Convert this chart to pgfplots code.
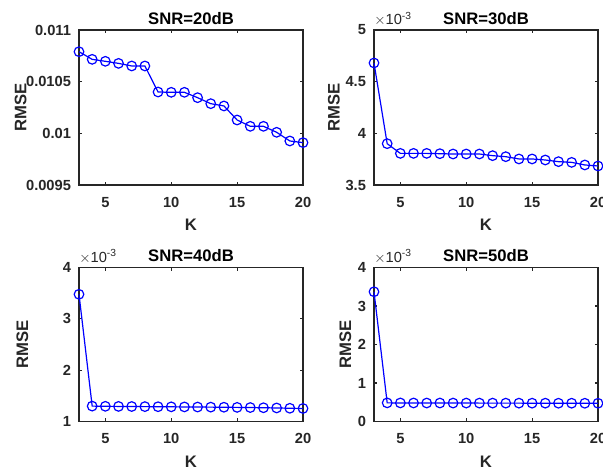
\documentclass[border=0pt]{standalone}
\usepackage{fontspec}
\setmainfont{Liberation Sans}
\usepackage{pgfplots}
\pgfplotsset{compat=1.18}
\definecolor{axgray}{rgb}{0.15,0.15,0.15}
\pgfplotsset{
  every axis title shift=0pt,
  mstyle/.style={
    scale only axis,
    width=168pt, height=116.25pt,
    xmin=3, xmax=20,
    xtick={5,10,15,20},
    tick align=inside,
    major tick length=2.5pt,
    axis line style={axgray, line width=0.8pt},
    every tick/.style={axgray, line width=0.8pt},
    tick label style={font=\fontsize{11}{13}\selectfont\bfseries, text=axgray},
    /pgf/number format/assume math mode=true,
    xticklabel style={yshift=-5.5pt},
    yticklabel style={xshift=-2.5pt},
    title style={font=\fontsize{12.5}{14}\selectfont\bfseries, text=black,
      at={(axis description cs:0.5,1)}, anchor=south, inner sep=0pt, yshift=4pt},
    label style={font=\fontsize{12.5}{15}\selectfont\bfseries, text=axgray},
    xlabel={K},
    ylabel={RMSE},
    xlabel style={at={(axis description cs:0.5,0)}, anchor=north, inner sep=0pt, yshift=-25.5pt},
    clip=false,
  },
  pstyle/.style={blue, line width=0.9pt, mark=o, mark size=3.6pt, mark options={line width=0.9pt}},
}
\newcommand{\expnode}{\node[anchor=south west, inner sep=0pt, yshift=3pt, font=\fontsize{11}{13}\selectfont, text=axgray] at (rel axis cs:0,1) {$\times$10\textsuperscript{-3}};}
\begin{document}
\begin{tikzpicture}
% SNR=20dB
\begin{axis}[mstyle, at={(79*0.75pt,284*0.75pt)}, anchor=south west,
  title={SNR=20dB},
  ymin=0.0095, ymax=0.011,
  ytick={0.0095,0.01,0.0105,0.011},
  yticklabels={0.0095,0.01,0.0105,0.011},
  scaled y ticks=false,
  ylabel style={at={(axis description cs:-0.26,0.5)}, anchor=center}]
\addplot[pstyle] coordinates {
(3,0.01079) (4,0.010716) (5,0.010697) (6,0.010677) (7,0.010652) (8,0.010652)
(9,0.010400) (10,0.010397) (11,0.010397) (12,0.010345) (13,0.010287) (14,0.010265)
(15,0.010129) (16,0.010068) (17,0.010068) (18,0.010010) (19,0.009926) (20,0.009910)};
\end{axis}
% SNR=30dB
\begin{axis}[mstyle, at={(374*0.75pt,284*0.75pt)}, anchor=south west,
  title={SNR=30dB},
  ymin=3.5, ymax=5,
  ytick={3.5,4,4.5,5},
  ylabel style={at={(axis description cs:-0.179,0.5)}, anchor=center}]
\addplot[pstyle] coordinates {
(3,4.681) (4,3.900) (5,3.806) (6,3.806) (7,3.806) (8,3.803) (9,3.800) (10,3.800)
(11,3.800) (12,3.784) (13,3.774) (14,3.752) (15,3.752) (16,3.742) (17,3.726)
(18,3.719) (19,3.694) (20,3.684)};
\expnode
\end{axis}
% SNR=40dB
\begin{axis}[mstyle, at={(79*0.75pt,47.5*0.75pt)}, anchor=south west,
  height=115.5pt,
  title={SNR=40dB},
  ymin=1, ymax=4,
  ytick={1,2,3,4},
  ylabel style={at={(axis description cs:-0.253,0.5)}, anchor=center}]
\addplot[pstyle] coordinates {
(3,3.478) (4,1.300) (5,1.296) (6,1.294) (7,1.292) (8,1.290) (9,1.288) (10,1.286)
(11,1.284) (12,1.282) (13,1.280) (14,1.278) (15,1.275) (16,1.272) (17,1.268)
(18,1.264) (19,1.258) (20,1.254)};
\expnode
\end{axis}
% SNR=50dB
\begin{axis}[mstyle, at={(374*0.75pt,47.5*0.75pt)}, anchor=south west,
  height=115.5pt,
  title={SNR=50dB},
  ymin=0, ymax=4,
  ytick={0,1,2,3,4},
  ylabel style={at={(axis description cs:-0.128,0.5)}, anchor=center}]
\addplot[pstyle] coordinates {
(3,3.370) (4,0.484) (5,0.482) (6,0.481) (7,0.480) (8,0.480) (9,0.479) (10,0.479)
(11,0.478) (12,0.478) (13,0.477) (14,0.477) (15,0.476) (16,0.476) (17,0.475)
(18,0.475) (19,0.474) (20,0.474)};
\expnode
\end{axis}
\pgfresetboundingbox
\useasboundingbox (0,0) rectangle (603*0.75pt,469*0.75pt);
\end{tikzpicture}
\end{document}
